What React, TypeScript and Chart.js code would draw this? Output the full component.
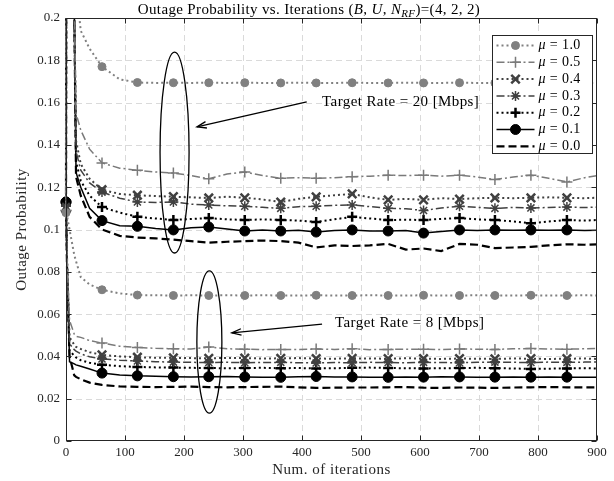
import React, { useEffect, useRef } from 'react';
import { Chart, registerables } from 'chart.js';

Chart.register(...registerables);

// ---------------- data ----------------
const ITERS = [0, 2, 6, 14, 17, 25, 40, 61, 91, 121, 152, 182, 212, 242, 273, 303, 333, 364, 394, 424, 455, 485, 515, 546, 576, 606, 636, 667, 697, 727, 758, 788, 818, 849, 879, 900];
const MARKER_ITERS = [0, 61, 121, 182, 242, 303, 364, 424, 485, 546, 606, 667, 727, 788, 849];
const MU_LABELS = ['1.0', '0.5', '0.4', '0.3', '0.2', '0.1', '0.0'];
const X_TICKS = [0, 100, 200, 300, 400, 500, 600, 700, 800, 900];
const Y_TICKS = [0, 0.02, 0.04, 0.06, 0.08, 0.1, 0.12, 0.14, 0.16, 0.18, 0.2];

// Target rate = 20 Mbps
const R20_MU10 = [0.108, 0.6, 0.5, 0.3, 0.215, 0.194, 0.1855, 0.177, 0.171, 0.1695, 0.1693, 0.1694, 0.1693, 0.1694, 0.1693, 0.1694, 0.1693, 0.1693, 0.1694, 0.1693, 0.1693, 0.1694, 0.1693, 0.1693, 0.1694, 0.1693, 0.1693, 0.1694, 0.1693, 0.1693, 0.1694, 0.1693, 0.1693, 0.1694, 0.1693, 0.1693];
const R20_MU05 = [0.109, 0.6, 0.5, 0.21, 0.155, 0.147, 0.138, 0.1315, 0.129, 0.128, 0.1272, 0.1267, 0.1255, 0.124, 0.1262, 0.1272, 0.1255, 0.1242, 0.1245, 0.1242, 0.1245, 0.125, 0.1252, 0.1257, 0.1255, 0.1257, 0.1252, 0.1257, 0.1248, 0.1236, 0.1248, 0.1257, 0.1242, 0.1225, 0.1245, 0.1255];
const R20_MU04 = [0.110, 0.6, 0.5, 0.205, 0.142, 0.131, 0.124, 0.1188, 0.1168, 0.1162, 0.1158, 0.1155, 0.1152, 0.1149, 0.1155, 0.115, 0.1142, 0.113, 0.1145, 0.1154, 0.1162, 0.1168, 0.1152, 0.114, 0.1145, 0.114, 0.1148, 0.1144, 0.1148, 0.115, 0.1148, 0.115, 0.1152, 0.115, 0.1148, 0.115];
const R20_MU03 = [0.111, 0.6, 0.5, 0.205, 0.137, 0.128, 0.122, 0.1177, 0.1148, 0.113, 0.1128, 0.113, 0.112, 0.1116, 0.1112, 0.111, 0.1105, 0.110, 0.1108, 0.111, 0.1114, 0.1116, 0.1108, 0.110, 0.1098, 0.109, 0.1102, 0.111, 0.1105, 0.110, 0.1104, 0.1102, 0.1104, 0.1106, 0.1104, 0.1106];
const R20_MU02 = [0.112, 0.6, 0.5, 0.205, 0.132, 0.123, 0.116, 0.1106, 0.108, 0.106, 0.1052, 0.1045, 0.105, 0.1054, 0.1048, 0.1045, 0.1048, 0.1045, 0.1042, 0.1036, 0.1048, 0.106, 0.1052, 0.1045, 0.1046, 0.1045, 0.105, 0.1054, 0.1048, 0.1045, 0.1038, 0.103, 0.1038, 0.1045, 0.1042, 0.1045];
const R20_MU01 = [0.113, 0.6, 0.5, 0.205, 0.127, 0.12, 0.11, 0.1042, 0.1018, 0.1015, 0.1005, 0.0998, 0.1008, 0.1012, 0.1002, 0.0993, 0.0998, 0.0993, 0.0996, 0.0988, 0.0995, 0.0998, 0.0993, 0.0993, 0.0995, 0.0983, 0.099, 0.0998, 0.0995, 0.0998, 0.0996, 0.0998, 0.0996, 0.0998, 0.0995, 0.0996];
const R20_MU00 = [0.111, 0.6, 0.5, 0.205, 0.125, 0.116, 0.106, 0.1, 0.097, 0.0962, 0.0958, 0.0952, 0.0945, 0.0938, 0.0942, 0.0945, 0.0948, 0.0945, 0.0938, 0.0915, 0.0925, 0.0922, 0.0925, 0.0932, 0.0905, 0.091, 0.0898, 0.0932, 0.0928, 0.0912, 0.0915, 0.0918, 0.0925, 0.093, 0.0928, 0.093];

// Target rate = 8 Mbps
const R8_MU10 = [0.108, 0.106, 0.100, 0.088, 0.085, 0.0775, 0.074, 0.0715, 0.0698, 0.069, 0.0689, 0.0688, 0.0689, 0.0688, 0.0689, 0.0688, 0.0689, 0.0688, 0.0688, 0.0689, 0.0688, 0.0688, 0.0689, 0.0688, 0.0688, 0.0689, 0.0688, 0.0688, 0.0689, 0.0688, 0.0688, 0.0689, 0.0688, 0.0688, 0.0689, 0.0688];
const R8_MU05 = [0.109, 0.085, 0.057, 0.0505, 0.0495, 0.049, 0.0475, 0.0463, 0.0448, 0.0442, 0.0438, 0.0436, 0.0435, 0.0444, 0.0436, 0.0434, 0.0432, 0.0433, 0.0432, 0.0435, 0.0433, 0.0436, 0.0432, 0.0433, 0.0434, 0.0434, 0.0432, 0.0435, 0.0434, 0.0433, 0.0436, 0.0437, 0.0435, 0.0434, 0.0436, 0.0437];
const R8_MU04 = [0.110, 0.084, 0.049, 0.0455, 0.0445, 0.0435, 0.042, 0.0407, 0.04, 0.0396, 0.0394, 0.0393, 0.0392, 0.0391, 0.0393, 0.0392, 0.039, 0.0391, 0.0392, 0.039, 0.0389, 0.0391, 0.039, 0.0389, 0.0391, 0.039, 0.0388, 0.039, 0.0389, 0.0388, 0.039, 0.0389, 0.0388, 0.0389, 0.039, 0.0388];
const R8_MU03 = [0.111, 0.083, 0.046, 0.0432, 0.0425, 0.0412, 0.0398, 0.0388, 0.0382, 0.0378, 0.0375, 0.0373, 0.0372, 0.0371, 0.0372, 0.037, 0.0371, 0.0372, 0.037, 0.0369, 0.0371, 0.037, 0.0372, 0.0371, 0.037, 0.0372, 0.0371, 0.037, 0.0372, 0.0373, 0.0372, 0.0371, 0.0373, 0.0372, 0.0373, 0.0374];
const R8_MU02 = [0.112, 0.082, 0.043, 0.0402, 0.0395, 0.0382, 0.037, 0.036, 0.0354, 0.035, 0.0348, 0.0347, 0.0346, 0.0345, 0.0344, 0.0345, 0.0346, 0.0344, 0.0345, 0.0343, 0.0344, 0.0346, 0.0347, 0.0345, 0.0344, 0.0343, 0.0344, 0.0345, 0.0346, 0.0344, 0.0343, 0.0341, 0.0342, 0.0343, 0.0344, 0.0343];
const R8_MU01 = [0.113, 0.08, 0.0375, 0.0365, 0.036, 0.0353, 0.034, 0.0321, 0.0312, 0.0308, 0.0306, 0.0304, 0.0303, 0.0304, 0.0305, 0.0303, 0.0302, 0.0301, 0.0304, 0.0305, 0.0303, 0.0303, 0.0302, 0.0301, 0.0303, 0.0302, 0.0304, 0.0303, 0.0301, 0.0302, 0.0303, 0.0302, 0.0303, 0.0302, 0.0301, 0.0302];
const R8_MU00 = [0.111, 0.078, 0.04, 0.031, 0.0303, 0.0292, 0.0276, 0.0265, 0.0258, 0.0256, 0.0255, 0.0256, 0.0257, 0.0255, 0.0254, 0.0255, 0.0256, 0.0257, 0.0254, 0.0251, 0.0252, 0.0253, 0.0253, 0.0254, 0.0255, 0.0252, 0.0251, 0.0253, 0.0252, 0.0251, 0.0253, 0.0254, 0.0255, 0.0254, 0.0253, 0.0254];

const SERIES_20 = [R20_MU10, R20_MU05, R20_MU04, R20_MU03, R20_MU02, R20_MU01, R20_MU00];
const SERIES_8 = [R8_MU10, R8_MU05, R8_MU04, R8_MU03, R8_MU02, R8_MU01, R8_MU00];

// annotations (data coordinates)
const ELLIPSE_20 = { x: 184, y: 0.1364, rx: 24.6, ry: 0.0475 };
const ELLIPSE_8 = { x: 243, y: 0.0468, rx: 21.2, ry: 0.0336 };
const ARROW_20 = { x0: 408, y0: 0.1603, x1: 222, y1: 0.1485, tx: 434, ty: 0.1603, text: 'Target Rate = 20 [Mbps]' };
const ARROW_8 = { x0: 434, y0: 0.0553, x1: 281, y1: 0.0511, tx: 456, ty: 0.0558, text: 'Target Rate = 8 [Mbps]' };

// ---------------- styles ----------------
const SERIF = '"Liberation Serif", "Times New Roman", serif';
const AXIS_COLOR = '#262626';
type Sty = { color: string; width: number; dash: number[]; marker: string | null; r: number; mw: number; fill: boolean };
const STYLES: Sty[] = [
  { color: '#808080', width: 2, dash: [2, 3], marker: 'circle', r: 4, mw: 1, fill: true },
  { color: '#7a7a7a', width: 1.5, dash: [8, 3, 2, 3], marker: 'cross', r: 5.5, mw: 1.5, fill: false },
  { color: '#404040', width: 2, dash: [2, 3], marker: 'crossRot', r: 6, mw: 2.5, fill: false },
  { color: '#404040', width: 1.5, dash: [8, 3, 2, 3], marker: 'star', r: 5, mw: 1.5, fill: false },
  { color: '#000000', width: 2, dash: [2, 3], marker: 'cross', r: 5, mw: 2.5, fill: false },
  { color: '#000000', width: 1.5, dash: [], marker: 'circle', r: 5, mw: 1, fill: true },
  { color: '#000000', width: 2.2, dash: [8, 4], marker: null, r: 0, mw: 1, fill: false },
];

const MARKER_SET = new Set(MARKER_ITERS);

function makeDatasets(series: number[][], tag: string) {
  return series.map((vals, i) => {
    const s = STYLES[i];
    return {
      label: `${tag} mu=${MU_LABELS[i]}`,
      data: ITERS.map((x, k) => ({ x, y: vals[k] })),
      borderColor: s.color,
      borderWidth: s.width,
      borderDash: s.dash,
      backgroundColor: s.fill ? s.color : 'rgba(0,0,0,0)',
      pointStyle: s.marker || 'circle',
      pointRadius: (ctx: any) => (s.marker && MARKER_SET.has(ITERS[ctx.dataIndex]) ? s.r : 0),
      pointHoverRadius: 0,
      pointBorderColor: s.color,
      pointBackgroundColor: s.fill ? s.color : 'rgba(0,0,0,0)',
      pointBorderWidth: s.mw,
      tension: 0,
      fill: false,
      clip: { left: 8, top: 0, right: 0, bottom: 0 },
    };
  });
}

function drawMarker(ctx: CanvasRenderingContext2D, s: Sty, x: number, y: number) {
  if (!s.marker) return;
  ctx.save();
  ctx.setLineDash([]);
  ctx.strokeStyle = s.color;
  ctx.fillStyle = s.color;
  ctx.lineWidth = s.mw;
  const r = s.r;
  ctx.beginPath();
  if (s.marker === 'circle') {
    ctx.arc(x, y, r, 0, Math.PI * 2);
    ctx.fill();
    ctx.stroke();
  } else {
    const plus = () => { ctx.moveTo(x - r, y); ctx.lineTo(x + r, y); ctx.moveTo(x, y - r); ctx.lineTo(x, y + r); };
    const d = r * Math.SQRT1_2;
    const xr = () => { ctx.moveTo(x - d, y - d); ctx.lineTo(x + d, y + d); ctx.moveTo(x - d, y + d); ctx.lineTo(x + d, y - d); };
    if (s.marker === 'cross') plus();
    else if (s.marker === 'crossRot') xr();
    else { plus(); xr(); }
    ctx.stroke();
  }
  ctx.restore();
}

function setSpacing(ctx: any, px: number) {
  if ('letterSpacing' in ctx) ctx.letterSpacing = `${px}px`;
}

const decor = {
  id: 'decor',
  beforeDatasetsDraw(chart: any) {
    const { ctx, chartArea: a, scales } = chart;
    const xs = scales.x, ys = scales.y;
    ctx.save();
    ctx.strokeStyle = '#dadada';
    ctx.lineWidth = 1;
    ctx.setLineDash([6, 4]);
    X_TICKS.forEach((v) => {
      const px = Math.round(xs.getPixelForValue(v)) + 0.5;
      if (px <= a.left + 1 || px >= a.right - 1) return;
      ctx.beginPath(); ctx.moveTo(px, a.bottom); ctx.lineTo(px, a.top); ctx.stroke();
    });
    Y_TICKS.forEach((v) => {
      const py = Math.round(ys.getPixelForValue(v)) + 0.5;
      if (py <= a.top + 1 || py >= a.bottom - 1) return;
      ctx.beginPath(); ctx.moveTo(a.left, py); ctx.lineTo(a.right, py); ctx.stroke();
    });
    ctx.restore();
  },
  afterDraw(chart: any) {
    const { ctx, chartArea: a, scales } = chart;
    const xs = scales.x, ys = scales.y;
    ctx.save();
    // box + inward ticks
    ctx.strokeStyle = AXIS_COLOR;
    ctx.lineWidth = 1;
    ctx.setLineDash([]);
    const L = Math.round(a.left) + 0.5, R = Math.round(a.right) - 0.5;
    const T = Math.round(a.top) + 0.5, B = Math.round(a.bottom) - 0.5;
    ctx.strokeRect(L, T, R - L, B - T);
    const tl = 5;
    ctx.beginPath();
    X_TICKS.forEach((v) => {
      const px = Math.round(xs.getPixelForValue(v)) + 0.5;
      ctx.moveTo(px, B); ctx.lineTo(px, B - tl);
      ctx.moveTo(px, T); ctx.lineTo(px, T + tl);
    });
    Y_TICKS.forEach((v) => {
      const py = Math.round(ys.getPixelForValue(v)) + 0.5;
      ctx.moveTo(L, py); ctx.lineTo(L + tl, py);
      ctx.moveTo(R, py); ctx.lineTo(R - tl, py);
    });
    ctx.stroke();

    // annotations
    ctx.strokeStyle = '#000';
    ctx.fillStyle = '#000';
    ctx.lineWidth = 1.3;
    [ELLIPSE_20, ELLIPSE_8].forEach((e) => {
      const cx = xs.getPixelForValue(e.x), cy = ys.getPixelForValue(e.y);
      const rx = Math.abs(xs.getPixelForValue(e.x + e.rx) - cx);
      const ry = Math.abs(ys.getPixelForValue(e.y + e.ry) - cy);
      ctx.beginPath(); ctx.ellipse(cx, cy, rx, ry, 0, 0, Math.PI * 2); ctx.stroke();
    });
    [ARROW_20, ARROW_8].forEach((ar) => {
      const x0 = xs.getPixelForValue(ar.x0), y0 = ys.getPixelForValue(ar.y0);
      const x1 = xs.getPixelForValue(ar.x1), y1 = ys.getPixelForValue(ar.y1);
      ctx.lineWidth = 1.3;
      ctx.beginPath(); ctx.moveTo(x0, y0); ctx.lineTo(x1, y1); ctx.stroke();
      const ang = Math.atan2(y1 - y0, x1 - x0);
      const hl = 10, th = 0.33;
      ctx.beginPath();
      ctx.moveTo(x1 - hl * Math.cos(ang - th), y1 - hl * Math.sin(ang - th));
      ctx.lineTo(x1, y1);
      ctx.lineTo(x1 - hl * Math.cos(ang + th), y1 - hl * Math.sin(ang + th));
      ctx.stroke();
      ctx.font = `15px ${SERIF}`;
      setSpacing(ctx, 0.4);
      ctx.textAlign = 'left';
      ctx.textBaseline = 'middle';
      ctx.fillText(ar.text, xs.getPixelForValue(ar.tx), ys.getPixelForValue(ar.ty));
      setSpacing(ctx, 0);
    });

    // legend
    const bw = 100, bh = 118;
    const bx = Math.round(a.right - 5 - bw) + 0.5, by = Math.round(a.top + 17) + 0.5;
    ctx.fillStyle = '#fff';
    ctx.fillRect(bx, by, bw, bh);
    ctx.strokeStyle = AXIS_COLOR;
    ctx.lineWidth = 1;
    ctx.setLineDash([]);
    ctx.strokeRect(bx, by, bw, bh);
    STYLES.forEach((s, i) => {
      const ry = by + 10 + i * 16.8;
      ctx.save();
      ctx.strokeStyle = s.color;
      ctx.lineWidth = s.width;
      ctx.setLineDash(s.dash);
      ctx.beginPath(); ctx.moveTo(bx + 4, ry); ctx.lineTo(bx + 42, ry); ctx.stroke();
      ctx.restore();
      drawMarker(ctx, s, bx + 23, ry);
      ctx.fillStyle = '#000';
      ctx.textBaseline = 'middle';
      ctx.textAlign = 'left';
      setSpacing(ctx, 0.4);
      ctx.font = `italic 14px ${SERIF}`;
      ctx.fillText('\u03bc', bx + 46, ry);
      const w = ctx.measureText('\u03bc').width;
      ctx.font = `14px ${SERIF}`;
      ctx.fillText(` = ${MU_LABELS[i]}`, bx + 46 + w, ry);
      setSpacing(ctx, 0);
    });

    // title
    const segs = [
      { t: 'Outage Probability vs. Iterations (', it: false, sub: false },
      { t: 'B', it: true, sub: false },
      { t: ', ', it: false, sub: false },
      { t: 'U', it: true, sub: false },
      { t: ', ', it: false, sub: false },
      { t: 'N', it: true, sub: false },
      { t: 'RF', it: true, sub: true },
      { t: ')=(4, 2, 2)', it: false, sub: false },
    ];
    const fontOf = (sg: any) => `${sg.it ? 'italic ' : ''}${sg.sub ? 11 : 15}px ${SERIF}`;
    setSpacing(ctx, 0.35);
    let total = 0;
    segs.forEach((sg) => { ctx.font = fontOf(sg); total += ctx.measureText(sg.t).width; });
    let tx = 309 - total / 2;
    ctx.fillStyle = '#000';
    ctx.textAlign = 'left';
    ctx.textBaseline = 'alphabetic';
    segs.forEach((sg) => {
      ctx.font = fontOf(sg);
      ctx.fillText(sg.t, tx, sg.sub ? 17 : 14);
      tx += ctx.measureText(sg.t).width;
    });

    // axis titles
    setSpacing(ctx, 0.5);
    ctx.font = `15px ${SERIF}`;
    ctx.fillStyle = AXIS_COLOR;
    ctx.textAlign = 'center';
    ctx.textBaseline = 'middle';
    ctx.fillText('Num. of iterations', (a.left + a.right) / 2, 470);
    ctx.save();
    ctx.translate(22, (a.top + a.bottom) / 2);
    ctx.rotate(-Math.PI / 2);
    ctx.fillText('Outage Probability', 0, 0);
    ctx.restore();
    setSpacing(ctx, 0);

    ctx.restore();
  },
};

export default function App() {
  const ref = useRef<HTMLCanvasElement>(null);
  useEffect(() => {
    if (!ref.current) return;
    const tickFont = { family: SERIF, size: 13 };
    const chart = new Chart(ref.current, {
      type: 'line',
      data: { datasets: [...makeDatasets(SERIES_20, '20Mbps'), ...makeDatasets(SERIES_8, '8Mbps')] as any },
      options: {
        responsive: false,
        animation: false,
        events: [],
        layout: { padding: { left: 0, right: 17, top: 18, bottom: 0 } },
        plugins: { legend: { display: false }, tooltip: { enabled: false }, title: { display: false } },
        scales: {
          x: {
            type: 'linear',
            min: 0,
            max: 900,
            afterBuildTicks: (s: any) => { s.ticks = X_TICKS.map((v) => ({ value: v })); },
            afterFit: (s: any) => { s.height = 40; },
            grid: { display: false, drawTicks: false },
            border: { display: false },
            ticks: { font: tickFont, color: AXIS_COLOR, padding: 4, maxRotation: 0, autoSkip: false, callback: (v: any) => String(v) },
          },
          y: {
            type: 'linear',
            min: 0,
            max: 0.2,
            afterBuildTicks: (s: any) => { s.ticks = Y_TICKS.map((v) => ({ value: v })); },
            afterFit: (s: any) => { s.width = 66; },
            grid: { display: false, drawTicks: false },
            border: { display: false },
            ticks: { font: tickFont, color: AXIS_COLOR, padding: 6, autoSkip: false, callback: (v: any) => String(Number(Number(v).toFixed(2))) },
          },
        },
      } as any,
      plugins: [decor],
    });
    return () => chart.destroy();
  }, []);
  return (
    <div style={{ position: 'absolute', left: 0, top: 0, width: 614, height: 481, background: '#fff' }}>
      <canvas ref={ref} width={614} height={481} style={{ display: 'block' }} />
    </div>
  );
}
